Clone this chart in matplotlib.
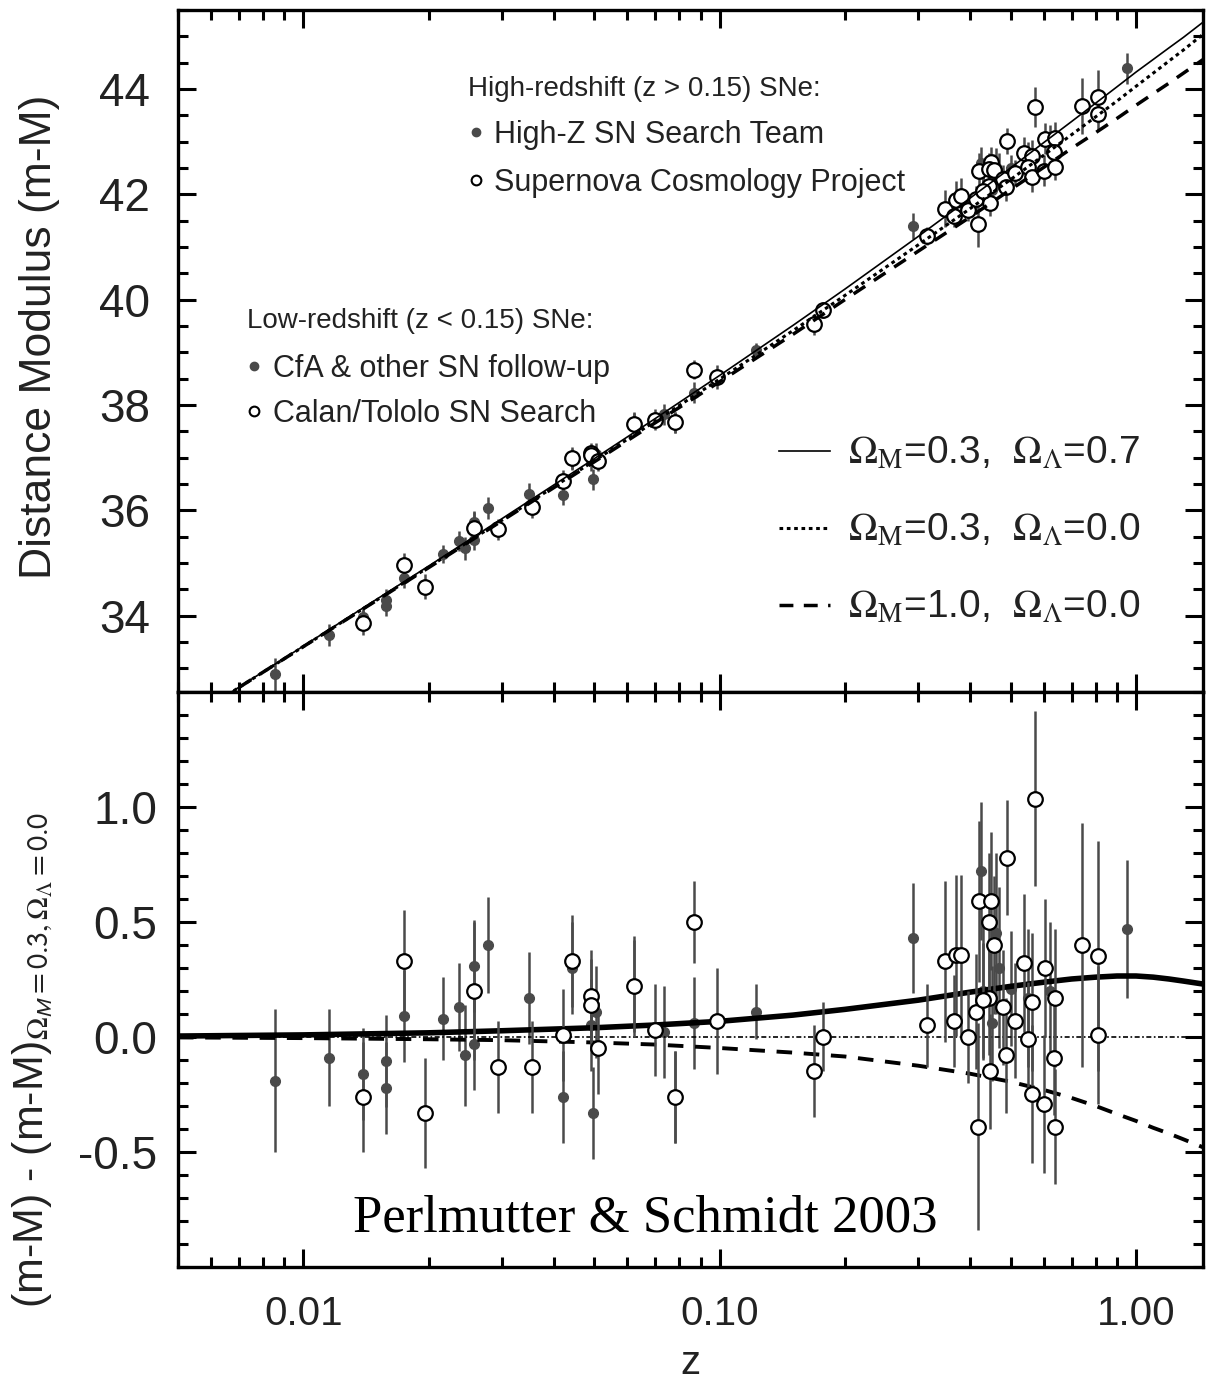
import numpy as np
import matplotlib
matplotlib.use("Agg")
import matplotlib.pyplot as plt
from matplotlib.lines import Line2D
from matplotlib.ticker import FixedLocator, LogLocator, MultipleLocator, NullFormatter

plt.rcParams['font.family'] = ['Liberation Sans', 'DejaVu Sans']
plt.rcParams['mathtext.fontset'] = 'stix'

# model curves
z_model = [0.005, 0.01, 0.02, 0.03, 0.05, 0.07, 0.1, 0.15, 0.2, 0.3, 0.4,
           0.5, 0.6, 0.7, 0.8, 0.9, 1.0, 1.1, 1.2, 1.3, 1.45]
mu_open = [31.90, 33.41, 34.92, 35.81, 36.94, 37.69, 38.49, 39.41, 40.08, 41.04, 41.73,
           42.28, 42.74, 43.13, 43.47, 43.77, 44.05, 44.30, 44.53, 44.74, 45.04]
mu_lambda = [31.90, 33.42, 34.94, 35.84, 36.98, 37.74, 38.56, 39.51, 40.20, 41.20, 41.93,
             42.50, 42.98, 43.38, 43.73, 44.04, 44.32, 44.56, 44.78, 44.98, 45.27]
mu_eds = [31.90, 33.41, 34.91, 35.80, 36.92, 37.66, 38.44, 39.34, 40.00, 40.92, 41.57,
          42.09, 42.51, 42.87, 43.17, 43.44, 43.69, 43.91, 44.11, 44.30, 44.56]
res_lambda = [0.004, 0.009, 0.018, 0.027, 0.040, 0.052, 0.068, 0.095, 0.120, 0.160, 0.195,
              0.220, 0.238, 0.252, 0.260, 0.265, 0.265, 0.260, 0.252, 0.243, 0.230]
res_open = [0.0] * len(z_model)
res_eds = [-0.002, -0.005, -0.010, -0.014, -0.024, -0.033, -0.048, -0.068, -0.085, -0.125, -0.160,
           -0.195, -0.230, -0.265, -0.300, -0.335, -0.365, -0.395, -0.420, -0.445, -0.480]

# supernovae: redshift, residual vs (0.3, 0.0), error
cfa_z = [0.00857, 0.01154, 0.0139, 0.0158, 0.0158, 0.0175, 0.0216, 0.0236, 0.0244, 0.0257,
         0.0257, 0.0277, 0.0349, 0.0420, 0.0441, 0.0491, 0.0505, 0.0495, 0.0622, 0.0737,
         0.078, 0.0867, 0.122]
cfa_r = [-0.19, -0.09, -0.16, -0.105, -0.22, 0.09, 0.08, 0.13, -0.08, 0.31,
         -0.03, 0.40, 0.17, -0.26, 0.30, 0.05, 0.11, -0.33, 0.22, 0.02,
         -0.26, 0.06, 0.11]
cfa_e = [0.31, 0.21, 0.20, 0.20, 0.20, 0.20, 0.18, 0.19, 0.22, 0.20,
         0.20, 0.21, 0.20, 0.20, 0.20, 0.20, 0.20, 0.20, 0.20, 0.20,
         0.20, 0.20, 0.12]

ct_z = [0.0139, 0.0175, 0.0196, 0.0257, 0.0294, 0.0355, 0.0420, 0.0441, 0.0491, 0.0491,
        0.0511, 0.0622, 0.0699, 0.078, 0.0867, 0.0984, 0.1687, 0.1774]
ct_r = [-0.26, 0.33, -0.33, 0.20, -0.13, -0.13, 0.01, 0.33, 0.18, 0.14,
        -0.05, 0.22, 0.03, -0.26, 0.50, 0.07, -0.15, 0.0]
ct_e = [0.24, 0.22, 0.24, 0.30, 0.20, 0.20, 0.20, 0.20, 0.20, 0.20,
        0.20, 0.22, 0.20, 0.20, 0.18, 0.23, 0.20, 0.15]

hz_z = [0.291, 0.424, 0.43, 0.45, 0.46, 0.47, 0.50, 0.55, 0.62, 0.952]
hz_r = [0.43, 0.72, 0.20, 0.06, 0.45, 0.30, 0.21, 0.17, 0.20, 0.47]
hz_e = [0.24, 0.30, 0.30, 0.25, 0.35, 0.35, 0.25, 0.30, 0.30, 0.30]

scp_z = [0.315, 0.3475, 0.366, 0.37, 0.38, 0.394, 0.412, 0.417, 0.419, 0.449,
         0.443, 0.457, 0.443, 0.445, 0.43, 0.478, 0.486, 0.49, 0.511, 0.537,
         0.564, 0.55, 0.564, 0.573, 0.60, 0.604, 0.64, 0.635, 0.64, 0.743,
         0.811, 0.811]
scp_r = [0.05, 0.33, 0.07, 0.355, 0.355, 0.0, 0.11, -0.39, 0.59, 0.59,
         0.50, 0.40, 0.17, -0.15, 0.16, 0.13, -0.08, 0.78, 0.07, 0.32,
         0.15, -0.01, -0.25, 1.035, -0.29, 0.30, 0.17, -0.09, -0.39, 0.40,
         0.35, 0.01]
scp_e = [0.18, 0.35, 0.20, 0.35, 0.35, 0.20, 0.25, 0.45, 0.35, 0.30,
         0.30, 0.30, 0.25, 0.25, 0.25, 0.25, 0.25, 0.25, 0.25, 0.30,
         0.30, 0.25, 0.30, 0.38, 0.30, 0.30, 0.30, 0.25, 0.25, 0.53,
         0.50, 0.30]

GREY = '#4a4a4a'
TXT = '#222222'


def to_mu(z, r):
    # distance modulus = reference (0.3, 0.0) model + residual
    return np.interp(np.log10(z), np.log10(z_model), mu_open) + np.array(r)


def draw_points(ax, z, y, e, filled):
    if filled:
        ax.errorbar(z, y, yerr=e, fmt='o', ms=7, mfc=GREY, mec=GREY,
                    ecolor=GREY, elinewidth=1.8, capsize=0, zorder=3)
    else:
        ax.errorbar(z, y, yerr=e, fmt='o', ms=10.5, mfc='white', mec='black', mew=1.6,
                    ecolor=GREY, elinewidth=1.8, capsize=0, zorder=4)


fig = plt.figure(figsize=(12.09, 13.8), dpi=100)
ax1 = fig.add_axes([0.1472, 0.4986, 0.848, 0.4942])
ax2 = fig.add_axes([0.1472, 0.0819, 0.848, 0.4167], sharex=ax1)

# top panel
for z, r, e, f in [(cfa_z, cfa_r, cfa_e, True), (ct_z, ct_r, ct_e, False),
                   (hz_z, hz_r, hz_e, True), (scp_z, scp_r, scp_e, False)]:
    draw_points(ax1, z, to_mu(z, r), e, f)

ax1.plot(z_model, mu_lambda, color='black', lw=1.2, zorder=5)
ax1.plot(z_model, mu_open, color='black', lw=2.2, ls=(0, (1.2, 1.2)), zorder=5)
ax1.plot(z_model, mu_eds, color='black', lw=2.5, ls=(0, (4, 3)), zorder=5)

# bottom panel
for z, r, e, f in [(cfa_z, cfa_r, cfa_e, True), (ct_z, ct_r, ct_e, False),
                   (hz_z, hz_r, hz_e, True), (scp_z, scp_r, scp_e, False)]:
    draw_points(ax2, z, r, e, f)

ax2.plot(z_model, res_lambda, color='black', lw=4, zorder=3.5)
ax2.plot(z_model, res_open, color='black', lw=1.2, ls=(0, (3, 1.5, 1, 1.5)), zorder=3.5)
ax2.plot(z_model, res_eds, color='black', lw=2.8, ls=(0, (4, 3)), zorder=3.5)

ax1.set_xscale('log')
ax1.set_xlim(0.005, 1.45)
ax1.set_ylim(32.55, 45.5)
ax2.set_ylim(-1.0, 1.5)

for ax in (ax1, ax2):
    for s in ax.spines.values():
        s.set_linewidth(2.4)
    ax.tick_params(which='both', direction='in', top=True, right=True, width=2.2)
    ax.tick_params(which='major', length=13)
    ax.tick_params(which='minor', length=7)
    ax.xaxis.set_minor_locator(LogLocator(base=10, subs=np.arange(2, 10)))
    ax.xaxis.set_minor_formatter(NullFormatter())

ax1.yaxis.set_major_locator(FixedLocator([34, 36, 38, 40, 42, 44]))
ax1.yaxis.set_minor_locator(MultipleLocator(0.5))
ax1.tick_params(axis='y', labelsize=33, pad=20, labelcolor=TXT)
ax1.tick_params(axis='x', labelbottom=False)

ax2.yaxis.set_major_locator(FixedLocator([-0.5, 0.0, 0.5, 1.0]))
ax2.yaxis.set_minor_locator(MultipleLocator(0.1))
ax2.set_yticklabels(['-0.5', '0.0', '0.5', '1.0'])
ax2.tick_params(axis='y', labelsize=33, pad=15, labelcolor=TXT)
ax2.set_xticks([0.01, 0.1, 1.0])
ax2.set_xticklabels(['0.01', '0.10', '1.00'])
ax2.tick_params(axis='x', labelsize=29, pad=20, labelcolor=TXT)

ax1.set_ylabel('Distance Modulus (m-M)', fontsize=32, color=TXT)
ax1.yaxis.set_label_coords(-0.115, 0.52)
ax2.set_ylabel(r'(m-M) - (m-M)$_{\Omega_{\mathsf{M}}\mathsf{=0.3,}\Omega_{\Lambda}\mathsf{=0.0}}$',
               fontsize=31, color=TXT)
ax2.yaxis.set_label_coords(-0.12, 0.36)
ax2.set_xlabel('z', fontsize=29, labelpad=8, color=TXT)

ax2.text(0.456, 0.085, 'Perlmutter & Schmidt 2003', transform=ax2.transAxes,
         ha='center', va='center', fontsize=38, family='Liberation Serif')

# legends
h_fill = Line2D([], [], ls='none', marker='o', ms=6, mfc=GREY, mec=GREY)
h_open = Line2D([], [], ls='none', marker='o', ms=7, mfc='white', mec='black', mew=1.5)

leg_hi = ax1.legend([h_fill, h_open], ['High-Z SN Search Team', 'Supernova Cosmology Project'],
                    title='High-redshift (z > 0.15) SNe:', loc='upper left',
                    bbox_to_anchor=(0.268, 0.925), frameon=False, fontsize=22,
                    title_fontsize=20, alignment='left', handlelength=0.5,
                    handletextpad=0.35, labelspacing=0.58, borderpad=0,
                    labelcolor=TXT)
leg_hi.get_title().set_color(TXT)
ax1.add_artist(leg_hi)
leg_lo = ax1.legend([h_fill, h_open], ['CfA & other SN follow-up', 'Calan/Tololo SN Search'],
                    title='Low-redshift (z < 0.15) SNe:', loc='upper left',
                    bbox_to_anchor=(0.052, 0.585), frameon=False, fontsize=22,
                    title_fontsize=20, alignment='left', handlelength=0.5,
                    handletextpad=0.35, labelspacing=0.5, borderpad=0,
                    labelcolor=TXT)
leg_lo.get_title().set_color(TXT)
leg_lo._legend_box.sep = 14
ax1.add_artist(leg_lo)

h_l = Line2D([], [], color='black', lw=1.2)
h_o = Line2D([], [], color='black', lw=2.2, ls=(0, (1.2, 1.2)))
h_e = Line2D([], [], color='black', lw=2.5, ls=(0, (4, 3)))
ax1.legend([h_l, h_o, h_e],
           [r'$\Omega_{\mathrm{M}}$=0.3,  $\Omega_{\Lambda}$=0.7',
            r'$\Omega_{\mathrm{M}}$=0.3,  $\Omega_{\Lambda}$=0.0',
            r'$\Omega_{\mathrm{M}}$=1.0,  $\Omega_{\Lambda}$=0.0'],
           loc='lower right', bbox_to_anchor=(0.957, 0.068), frameon=False,
           fontsize=28, handlelength=1.3, handletextpad=0.45, labelspacing=1.05,
           borderpad=0, labelcolor=TXT)

fig.savefig('out.png', dpi=100, facecolor='white')
